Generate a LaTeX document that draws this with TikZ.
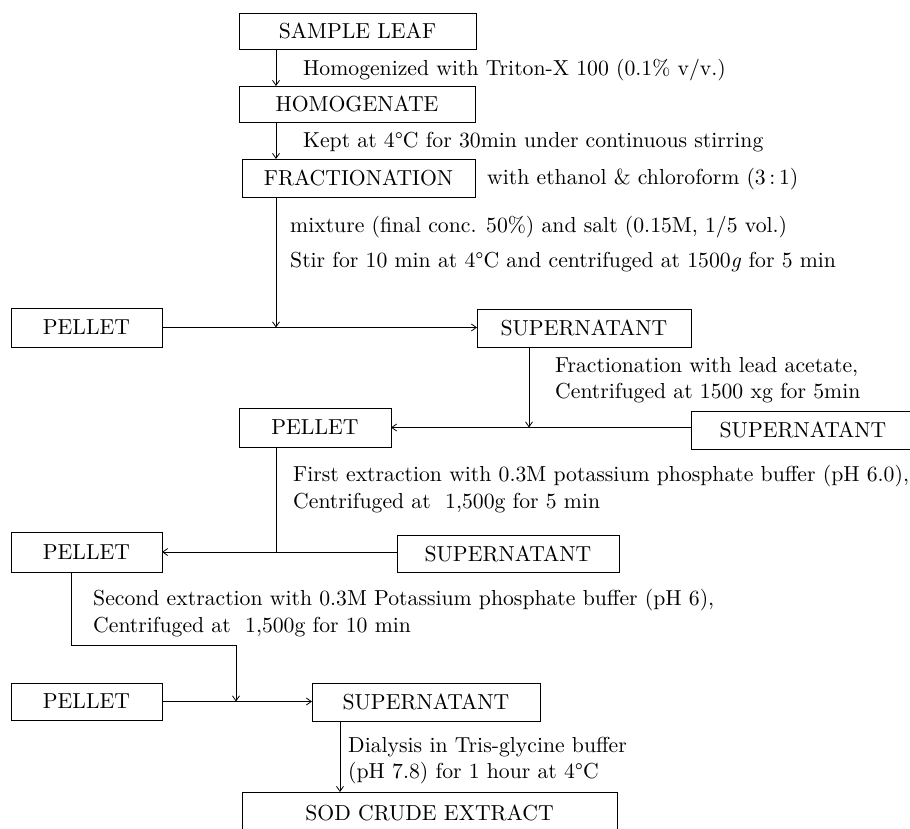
\documentclass[tikz,border=0pt]{standalone}
\usepackage{fontspec}
\setmainfont{lmroman10-regular.otf}[
  ItalicFont=lmroman10-italic.otf, BoldFont=lmroman10-bold.otf]
\usepackage{tikz}
\usetikzlibrary{arrows.meta,positioning,calc}

\begin{document}
\begin{tikzpicture}[x=1pt, y=-1pt,
    font=\fontsize{21.7}{25}\selectfont,
    box/.style={draw, line width=0.9pt, inner sep=0pt, outer sep=0pt},
    flow/.style={line width=0.8pt, -{Straight Barb[length=5pt,width=7pt]}},
    link/.style={line width=0.8pt},
    note/.style={anchor=west, inner sep=0pt}]
    \useasboundingbox (0,0) rectangle (910,828);
    % boxes
    \node[box, minimum width=237pt, minimum height=36pt] (leaf) at (357.5,31) {SAMPLE LEAF};
    \node[box, minimum width=236pt, minimum height=36pt] (homog) at (357,104) {HOMOGENATE};
    \node[box, minimum width=233pt, minimum height=38pt] (fract) at (358.5,178) {FRACTIONATION};
    \node[box, minimum width=151pt, minimum height=39pt] (pelA) at (86.5,327.5) {PELLET};
    \node[box, minimum width=214pt, minimum height=38pt] (supA) at (584,328) {SUPERNATANT};
    \node[box, minimum width=152pt, minimum height=39pt] (pelB) at (315,427.5) {PELLET};
    \node[box, minimum width=224pt, minimum height=38pt] (supB) at (803,430) {SUPERNATANT};
    \node[box, minimum width=151pt, minimum height=40pt] (pelC) at (86.5,552) {PELLET};
    \node[box, minimum width=222pt, minimum height=37pt] (supC) at (508,553.5) {SUPERNATANT};
    \node[box, minimum width=151pt, minimum height=37pt] (pelD) at (86.5,701.5) {PELLET};
    \node[box, minimum width=228pt, minimum height=38pt] (supD) at (426,702) {SUPERNATANT};
    \node[box, minimum width=375pt, minimum height=42pt] (sod) at (429.5,813) {SOD CRUDE EXTRACT};
    % texts
    \node[note] (t1) at (303,70) {Homogenized with Triton-X 100 (0.1\% v/v.)};
    \node[note] (t2) at (303,142) {Kept at 4\textdegree C for 30min under continuous stirring};
    \node[note] (t3) at (487,179) {with ethanol \& chloroform (3\,:\,1)};
    \node[note] (t4) at (290,227) {mixture (final conc. 50\%) and salt (0.15M, 1/5 vol.)};
    \node[note] (t5) at (290,262) {Stir for 10 min at 4\textdegree C and centrifuged at 1500\textit{g} for 5 min};
    \node[note] (t6) at (555,367) {Fractionation with lead acetate,};
    \node[note] (t7) at (555,393) {Centrifuged at 1500 xg for 5min};
    \node[note] (t8) at (293,476) {First extraction with 0.3M potassium phosphate buffer (pH 6.0),};
    \node[note] (t9) at (293,503) {Centrifuged at\ \ 1,500g for 5 min};
    \node[note] (t10) at (93,600) {Second extraction with 0.3M Potassium phosphate buffer (pH 6),};
    \node[note] (t11) at (93,627) {Centrifuged at\ \ 1,500g for 10 min};
    \node[note] (t12) at (348,747) {Dialysis in Tris-glycine buffer};
    \node[note] (t13) at (348,773) {(pH 7.8) for 1 hour at 4\textdegree C};
    % connectors
    \coordinate (spine) at (276,0);
    \coordinate (dropA) at (529,0);
    \coordinate (dropD) at (340,0);
    \coordinate (bendC) at (71,645);
    \coordinate (bendD) at (236,645);
    \draw[flow] (leaf.south -| spine) -- (homog.north -| spine);
    \draw[flow] (homog.south -| spine) -- (fract.north -| spine);
    \draw[flow] (fract.south -| spine) -- (spine |- pelA.east);
    \draw[flow] (pelA.east) -- (pelA.east -| supA.west);
    \draw[flow] (supA.south -| dropA) -- (dropA |- pelB.east);
    \draw[flow] (supB.west |- pelB.east) -- (pelB.east);
    \draw[link] (pelB.south -| spine) -- (spine |- pelC.east);
    \draw[flow] (supC.west |- pelC.east) -- (pelC.east);
    \draw[flow] (pelC.south -| bendC) -- (bendC) -- (bendD) -- (bendD |- pelD.east);
    \draw[flow] (pelD.east) -- (pelD.east -| supD.west);
    \draw[flow] (supD.south -| dropD) -- (sod.north -| dropD);
\end{tikzpicture}
\end{document}
